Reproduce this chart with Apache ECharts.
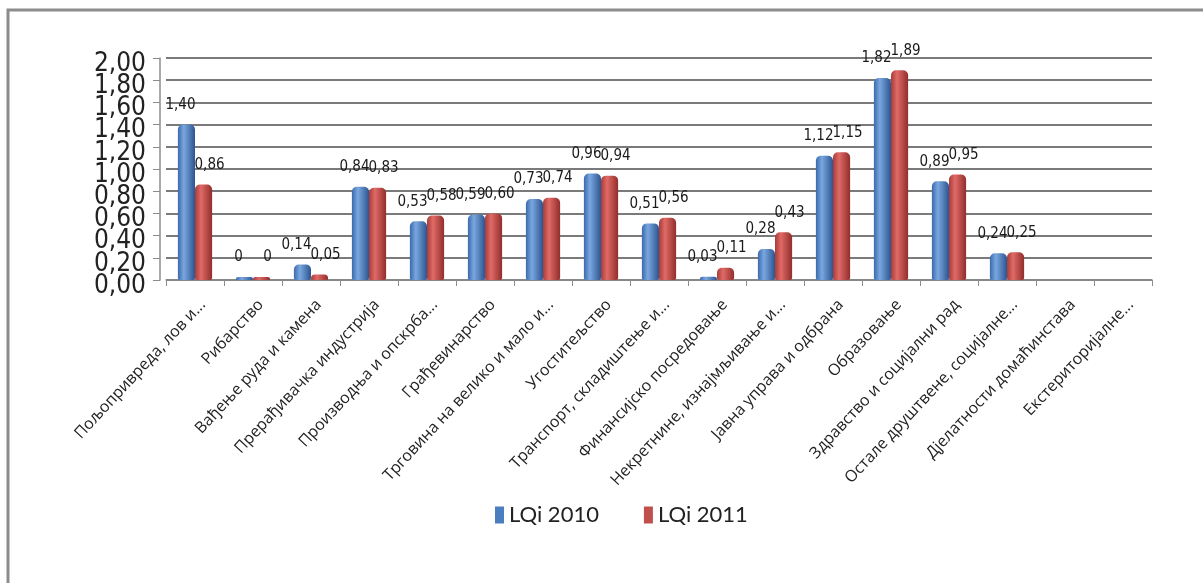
<!DOCTYPE html>
<html>
<head>
<meta charset="utf-8">
<script src="https://cdn.jsdelivr.net/npm/echarts@6/dist/echarts.min.js"></script>
<style>html,body{margin:0;padding:0;background:#fff;}#c{width:1203px;height:583px;}</style>
</head>
<body>
<div id="c"></div>
<script>
const categories = [
  'Пољопривреда, лов и...', 'Рибарство', 'Вађење руда и камена', 'Прерађивачка индустрија',
  'Производња и опскрба...', 'Грађевинарство', 'Трговина на велико и мало и...', 'Угоститељство',
  'Транспорт, складиштење и...', 'Финансијско посредовање', 'Некретнине, изнајмљивање и...',
  'Јавна управа и одбрана', 'Образовање', 'Здравство и социјални рад', 'Остале друштвене, социјалне...',
  'Дјелатности домаћинстава', 'Екстериторијалне...'
];
const lqi2010 = [1.40, 0, 0.14, 0.84, 0.53, 0.59, 0.73, 0.96, 0.51, 0.03, 0.28, 1.12, 1.82, 0.89, 0.24, null, null];
const lqi2011 = [0.86, 0, 0.05, 0.83, 0.58, 0.60, 0.74, 0.94, 0.56, 0.11, 0.43, 1.15, 1.89, 0.95, 0.25, null, null];
const yTickLabels = ['0,00', '0,20', '0,40', '0,60', '0,80', '1,00', '1,20', '1,40', '1,60', '1,80', '2,00'];

const fmt = v => (v === 0 ? '0' : v.toFixed(2).replace('.', ','));
const narrow = '"DejaVu Sans", sans-serif';
const narrowWeight = 'normal condensed';

function cyl(c1, c2, c3) {
  return { type: 'linear', x: 0, y: 0, x2: 1, y2: 0,
    colorStops: [{offset: 0, color: c1}, {offset: 0.35, color: c2}, {offset: 1, color: c3}] };
}

const chart = echarts.init(document.getElementById('c'));
chart.setOption({
  animation: false,
  graphic: [{
    type: 'rect', shape: { x: 8, y: 10, width: 1300, height: 700 },
    style: { fill: 'none', stroke: '#8c8c8c', lineWidth: 3 }
  }],
  legend: {
    bottom: 52, left: 490, itemGap: 45,
    itemWidth: 9, itemHeight: 17, icon: 'rect',
    textStyle: { fontFamily: 'Lato, sans-serif', fontSize: 22, color: '#222' },
    data: [
      { name: 'LQi 2010', itemStyle: { color: '#4a7ebf' } },
      { name: 'LQi 2011', itemStyle: { color: '#c0504d' } }
    ]
  },
  grid: { left: 166, right: 51, top: 58, bottom: 303 },
  xAxis: {
    type: 'category', data: categories,
    axisLine: { show: true, lineStyle: { color: '#8c8c8c', width: 1.5 } },
    axisTick: { show: true, length: 6, lineStyle: { color: '#8c8c8c' } },
    axisLabel: {
      interval: 0, rotate: 47, margin: 4,
      formatter: v => '{a|' + v + '}',
      rich: { a: { fontFamily: '"Open Sans", sans-serif', fontSize: 16, color: '#222', padding: [36, 8, 0, 0] } }
    }
  },
  yAxis: [
    {
      type: 'value', min: 0, max: 2, interval: 0.2,
      axisLine: { show: false }, axisTick: { show: false },
      axisLabel: { show: false },
      splitLine: { show: true, lineStyle: { color: '#7a7a7a', width: 2 } }
    },
    {
      type: 'category', data: yTickLabels, boundaryGap: false, position: 'left', offset: 6,
      axisLine: { show: true, lineStyle: { color: '#8c8c8c', width: 1.5 } },
      axisTick: { show: true, length: 7, interval: 0, lineStyle: { color: '#8c8c8c' } },
      splitLine: { show: false },
      axisLabel: {
        interval: 0, margin: 14,
        formatter: v => '{n|' + v + '}',
        rich: { n: { fontFamily: narrow, fontWeight: narrowWeight, fontSize: 26, color: '#222', padding: [12, 0, 0, 0] } }
      }
    }
  ],
  series: [
    {
      name: 'LQi 2010', type: 'bar', yAxisIndex: 0, data: lqi2010,
      barGap: '0%', barCategoryGap: '41%', barMinHeight: 3,
      itemStyle: { color: cyl('#3b6aab', '#7aa7e0', '#2c5590'), borderRadius: [5, 5, 2, 2] },
      label: {
        show: true, position: 'top', distance: 12, offset: [-6, 0],
        fontFamily: narrow, fontWeight: narrowWeight, fontSize: 15, color: '#1a1a1a',
        formatter: p => (p.value == null ? '' : fmt(p.value))
      }
    },
    {
      name: 'LQi 2011', type: 'bar', yAxisIndex: 0, data: lqi2011,
      barMinHeight: 3,
      itemStyle: { color: cyl('#a83c39', '#e06a66', '#912e2b'), borderRadius: [5, 5, 2, 2] },
      label: {
        show: true, position: 'top', distance: 12, offset: [6, 0],
        fontFamily: narrow, fontWeight: narrowWeight, fontSize: 15, color: '#1a1a1a',
        formatter: p => (p.value == null ? '' : fmt(p.value))
      }
    }
  ]
});
</script>
</body>
</html>
